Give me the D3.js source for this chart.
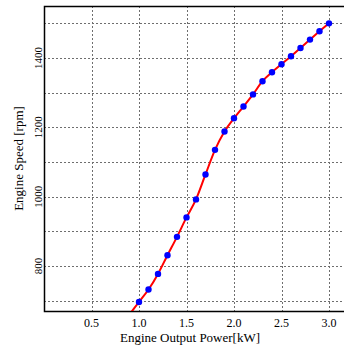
<!DOCTYPE html>
<html>
<head>
<meta charset="utf-8">
<script src="https://cdn.jsdelivr.net/npm/d3@7"></script>
<style>
  html, body { margin: 0; padding: 0; background: #fff; }
  svg { display: block; }
  svg text { font-family: "Liberation Serif", "Times New Roman", serif; }
</style>
</head>
<body>
<div id="chart"></div>
<script>
// measured points
const power = [1.0, 1.1, 1.2, 1.3, 1.4, 1.5, 1.6, 1.7, 1.8, 1.9, 2.0, 2.1, 2.2, 2.3, 2.4, 2.5, 2.6, 2.7, 2.8, 2.9, 3.0];
const speed = [696, 732, 777, 831, 884, 940, 992, 1064, 1135, 1188, 1226, 1260, 1295, 1333, 1359, 1382, 1405, 1429, 1453, 1477, 1500];
// fitted curve runs a little past the first point
const curvePower = [0.9].concat(power);
const curveSpeed = [660].concat(speed);

const xTicks = [0.5, 1.0, 1.5, 2.0, 2.5, 3.0];
const yGrid = [700, 800, 900, 1000, 1100, 1200, 1300, 1400, 1500];
const yLabels = [800, 1000, 1200, 1400];

const width = 344, height = 347;
const margin = { top: 6, right: -4, bottom: 36, left: 44 };

const x = d3.scaleLinear().domain([0, 3.2]).range([margin.left, width - margin.right]);
const y = d3.scaleLinear().domain([670, 1550]).range([height - margin.bottom, margin.top]);

const svg = d3.select("#chart").append("svg")
  .attr("width", width)
  .attr("height", height)
  .attr("font-family", "Liberation Serif");

svg.append("defs").append("clipPath").attr("id", "clip")
  .append("rect")
  .attr("x", margin.left).attr("y", margin.top)
  .attr("width", width - margin.left).attr("height", height - margin.bottom - margin.top);

// grid
const grid = svg.append("g")
  .attr("stroke", "#6e6e6e")
  .attr("stroke-width", 1)
  .attr("stroke-dasharray", "2,2");

grid.selectAll("line.v")
  .data(xTicks)
  .join("line")
  .attr("class", "v")
  .attr("x1", d => Math.round(x(d)) + 0.5)
  .attr("x2", d => Math.round(x(d)) + 0.5)
  .attr("y1", margin.top)
  .attr("y2", height - margin.bottom);

grid.selectAll("line.h")
  .data(yGrid)
  .join("line")
  .attr("class", "h")
  .attr("x1", margin.left)
  .attr("x2", width)
  .attr("y1", d => Math.round(y(d)) + 0.5)
  .attr("y2", d => Math.round(y(d)) + 0.5);

// frame
const y0 = Math.round(y.range()[0]) + 0.5;
const yT = Math.round(margin.top) + 0.5;
const xL = Math.round(margin.left) + 0.5;
svg.append("path")
  .attr("fill", "none")
  .attr("stroke", "#000")
  .attr("stroke-width", 1.5)
  .attr("d", `M${width},${yT}H${xL}V${y0}H${width}`);

// fitted line
const line = d3.line()
  .x((d, i) => x(curvePower[i]))
  .y(d => y(d))
  .curve(d3.curveMonotoneX);

svg.append("path")
  .datum(curveSpeed)
  .attr("clip-path", "url(#clip)")
  .attr("fill", "none")
  .attr("stroke", "#ff0000")
  .attr("stroke-width", 2)
  .attr("d", line);

// markers
svg.append("g")
  .attr("fill", "#0000ff")
  .selectAll("circle")
  .data(speed)
  .join("circle")
  .attr("cx", (d, i) => x(power[i]))
  .attr("cy", d => y(d))
  .attr("r", 3.2);

// tick labels
svg.append("g")
  .attr("font-size", 12)
  .attr("text-anchor", "middle")
  .selectAll("text")
  .data(xTicks)
  .join("text")
  .attr("x", d => x(d))
  .attr("y", 327)
  .text(d => d.toFixed(1));

svg.append("g")
  .attr("font-size", 11)
  .attr("text-anchor", "middle")
  .selectAll("text")
  .data(yLabels)
  .join("text")
  .attr("transform", d => `translate(42,${y(d)}) rotate(-90)`)
  .text(d => d);

// axis titles
svg.append("text")
  .attr("x", 190)
  .attr("y", 342)
  .attr("text-anchor", "middle")
  .attr("font-size", 13)
  .text("Engine Output Power[kW]");

svg.append("text")
  .attr("transform", `translate(23,${(margin.top + height - margin.bottom) / 2}) rotate(-90)`)
  .attr("text-anchor", "middle")
  .attr("font-size", 13)
  .text("Engine Speed [rpm]");
</script>
</body>
</html>
